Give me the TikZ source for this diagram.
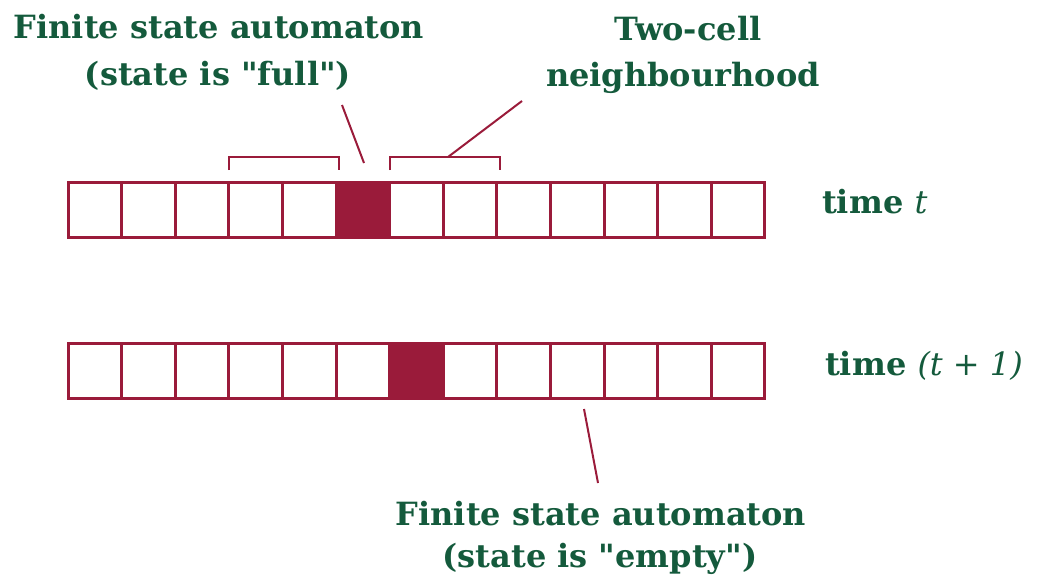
\documentclass[tikz,border=0pt]{standalone}
\usepackage{fontspec}
% plain family so that " stays a straight double quote
\newfontfamily\lblfont{DejaVu Serif}
\begin{document}
\begin{tikzpicture}[x=1pt,y=-1pt,
  lbl/.style={text=labelgreen,font=\lblfont\fontsize{32}{42}\selectfont\bfseries,inner sep=0pt,anchor=base},
  cell/.style={draw=cellred,line width=3pt,minimum width=53.6pt,minimum height=55pt,inner sep=0pt,outer sep=0pt},
  full/.style={fill=cellred},
  leader/.style={draw=cellred,line width=2pt},
  brace/.style={draw=cellred,line width=2pt}]
\definecolor{cellred}{HTML}{9A1B3A}
\definecolor{labelgreen}{HTML}{145A3C}
\useasboundingbox (0,0) rectangle (1038,586);

% two rows of thirteen cells
\foreach \i in {1,...,13}{
  \node[cell,anchor=north west] (c\i) at ({68+(\i-1)*53.6},182) {};
  \node[cell,anchor=north west] (d\i) at ({68+(\i-1)*53.6},343) {};
}
\node[cell,full,anchor=north west] (cf) at ({68+5*53.6},182) {};
\node[cell,full,anchor=north west] (df) at ({68+6*53.6},343) {};

% labels
\node[lbl] (fa1) at (219,38) {Finite state automaton};
\node[lbl] (fa2) at (218,85) {(state is "full")};
\node[lbl] (nb1) at (688,41) {Two-cell};
\node[lbl] (nb2) at (683,86) {neighbourhood};
\node[lbl,anchor=base west] (tt) at (822,213) {time {\mdseries\itshape t}};
\node[lbl,anchor=base west] (tt1) at (825,375) {time {\mdseries\itshape (t + 1)}};
\node[lbl] (fb1) at (601,525) {Finite state automaton};
\node[lbl] (fb2) at (600,567) {(state is "empty")};

% neighbourhood brackets either side of the full cell
\path[brace] ([yshift=12]c4.north west) -- ++(0,-13) -| ([xshift=3,yshift=12]c5.north east);
\path[brace] ([yshift=12]c7.north west) -- ++(0,-13) -| ([xshift=3,yshift=12]c8.north east);
\coordinate (rbm) at (448,157);

% leader lines
\coordinate (fatip) at (342,105);
\coordinate (fafoot) at (364,163);
\path[leader] (fatip) -- (fafoot);
\coordinate (nbtip) at (522,101);
\path[leader] (rbm) -- (nbtip);
\coordinate (fbtip) at (584,409);
\coordinate (fbfoot) at (598,483);
\path[leader] (fbtip) -- (fbfoot);
\end{tikzpicture}
\end{document}
